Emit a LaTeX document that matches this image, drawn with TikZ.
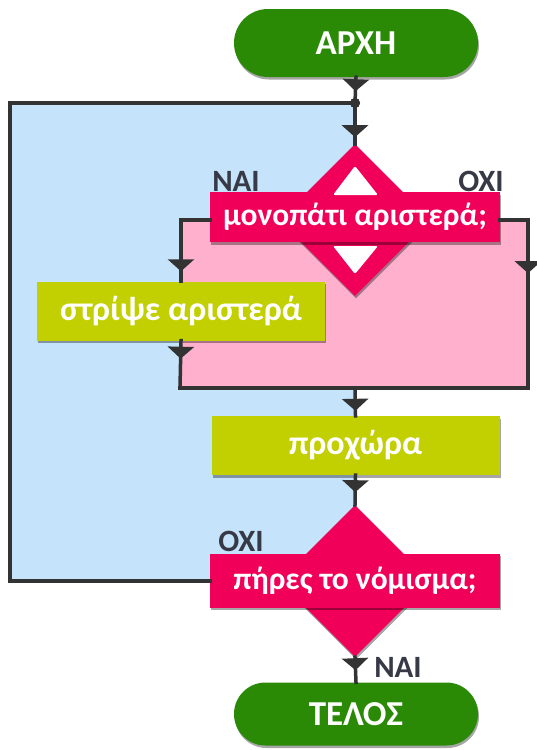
\documentclass[tikz,border=0pt]{standalone}
\usepackage{fontspec}
\setmainfont{Carlito}
\usetikzlibrary{arrows.meta,shapes.geometric,shapes.misc,decorations.markings,shadows}
\definecolor{pillgreen}{RGB}{42,138,6}
\definecolor{actgreen}{RGB}{194,207,0}
\definecolor{decred}{RGB}{240,0,88}
\definecolor{loopblue}{RGB}{197,227,250}
\definecolor{ifpink}{RGB}{255,176,204}
\definecolor{ln}{RGB}{51,51,51}
\definecolor{lbl}{RGB}{55,58,70}
\begin{document}
\begin{tikzpicture}[x=1pt,y=-1pt,
  conn/.style={draw=ln, line width=3.5pt, line cap=rect},
  tipat/.style={postaction={decorate}, decoration={markings,
      mark=at position #1 with {\arrow[ln]{Triangle[width=26pt,length=12pt]}}}},
  shad/.style={drop shadow={shadow xshift=1pt, shadow yshift=-2.5pt, opacity=0.35, fill=black}},
  pill/.style={rounded rectangle, fill=pillgreen, text=white, font=\bfseries\fontsize{35}{36}\selectfont,
      minimum width=244pt, minimum height=68pt, inner sep=0pt, shad},
  actbox/.style={rectangle, fill=actgreen, text=white, font=\bfseries\fontsize{34}{35}\selectfont,
      minimum width=288pt, minimum height=59pt, inner sep=0pt, shad},
  decbox/.style={rectangle, fill=decred, text=white, font=\bfseries\fontsize{31.5}{32}\selectfont,
      minimum width=290pt, minimum height=50pt, inner sep=0pt, shad},
  decdia/.style={diamond, fill=decred, minimum width=152pt, minimum height=152pt, inner sep=0pt, shad},
  lab/.style={text=lbl, font=\bfseries\fontsize{31}{32}\selectfont, inner sep=0pt},
  jdot/.style={circle, fill=ln, minimum size=10pt, inner sep=0pt}
]
\useasboundingbox (0,0) rectangle (537,750);
% coordinates
\coordinate (lt) at (10,103);
\coordinate (bl) at (180,388);
\coordinate (br) at (528,388);
\coordinate (bm) at (355,388);
% regions
\fill[loopblue] (10,103) rectangle (355,579);
\fill[ifpink] (180,221) rectangle (528,388);
% nodes
\node[pill] (start) at (356,43) {ΑΡΧΗ};
\node[jdot] (j) at (355,103) {};
\node[decdia] (d1dia) at (355,220) {};
\node[decbox] (d1) at (355,217) {μονοπάτι αριστερά;};
\fill[white, rounded corners=2pt] (355,166) -- (378,195) -- (333,195) -- cycle;
\fill[white, rounded corners=2pt] (355,274) -- (378,246) -- (333,246) -- cycle;
\node[actbox] (s1) at (181,311) {στρίψε αριστερά};
\node[actbox] (p) at (355.5,445.5) {προχώρα};
\node[decdia] (d2dia) at (355,581) {};
\node[decbox, minimum height=54pt] (d2) at (355,580.5) {πήρες το νόμισμα;};
\node[pill, minimum height=63pt] (end) at (356,714) {ΤΕΛΟΣ};
% labels
\node[lab] (nai1) at (236,181) {ΝΑΙ};
\node[lab] (oxi1) at (481,181) {ΟΧΙ};
\node[lab] (oxi2) at (241,541) {ΟΧΙ};
\node[lab] (nai2) at (398,667) {ΝΑΙ};
% connectors
\draw[conn, tipat=14pt] (start.south) -- (j);
\draw[conn, tipat=29pt] (j) -- (d1dia.north);
\draw[conn, tipat=-10pt] (d1dia -| d1.west) -| (s1.north);
\draw[conn, tipat=81pt] (d1dia -| d1.east) -| (br);
\draw[conn, tipat=18pt] (s1.south) -- (bl);
\draw[conn] (bl) -- (br);
\draw[conn, tipat=-5pt] (bm) -- (p.north);
\draw[conn, tipat=17pt] (p.south) -- (d2dia.north);
\draw[conn, tipat=13pt] (d2dia.south) -- (end.north);
\draw[conn] (d2dia -| d2.west) -| (lt) -- (j);
\node[jdot] at (j) {};
\end{tikzpicture}
\end{document}
